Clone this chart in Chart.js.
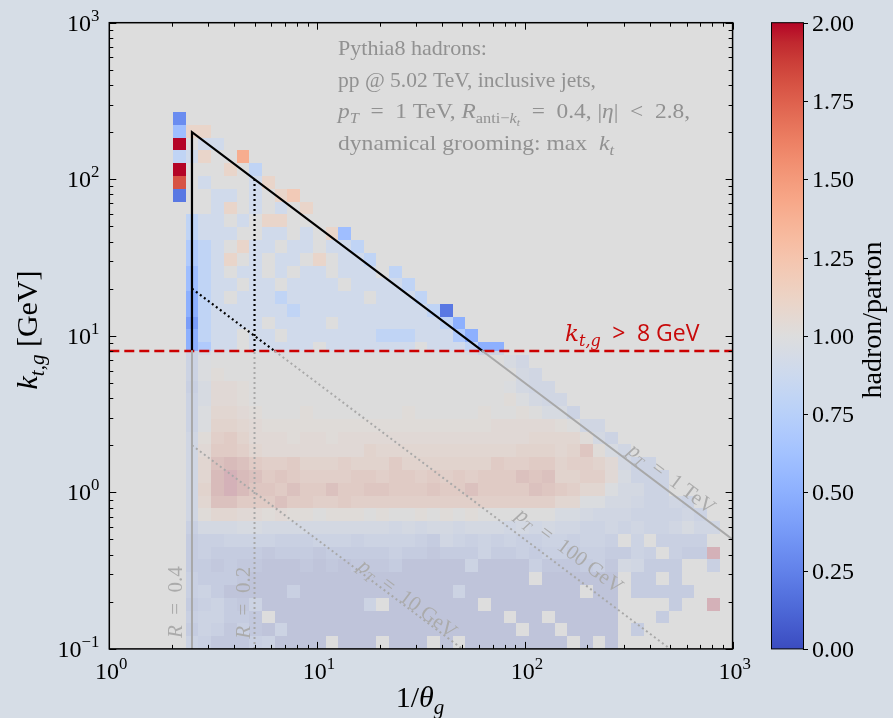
<!DOCTYPE html>
<html>
<head>
<meta charset="utf-8">
<script src="https://cdn.jsdelivr.net/npm/chart.js@4.4.1/dist/chart.umd.min.js"></script>
<style>
  html, body { margin: 0; padding: 0; background: #d6dde6; }
  #wrap { position: relative; width: 893px; height: 718px; }
</style>
</head>
<body>
<div id="wrap"><canvas id="chart" width="893" height="718"></canvas></div>
<script>
// binning of the 2D histogram (log bins)
const nBinsX = 49;        // 1/theta_g from 10^0 to 10^3
const nBinsY = 49;        // kt from 10^-1 to 10^3
const firstRow = 7;       // first filled row, counted from the top (kt = 1000)
const firstCol = 5;       // first filled column, counted from 1/theta_g = 1
const ktCut = 8;          // GeV, everything below is shown faded

// hadron/parton ratio, one character per cell:
// '0'..'9','A'..'K' -> 0.0 .. 2.0 in steps of 0.1, '.' -> empty bin
const LEVELS = '0123456789ABCDEFGHIJK';
const ratioRows = [
  '3',
  '6BB',
  'KA99',
  '89BAAE',
  'KAAABA8',
  'IA9AAA9B',
  '2AA99A9ABC',
  '..A9BA9A9AB',
  '.899A9ABBAAA',
  '.8999AA99A9AB6',
  '.789AB99A99A998',
  '.789BA9A99ABA998',
  '.689A99A9A99A999A8',
  '.6899A99A9999A99998',
  '.589A9998999999A9998',
  '.589999998999999999982',
  '.489999A9999A9999999985',
  '.5899A99A999999988899975',
  '.5799A99999A9999999A999855',
  '.59AAAAAAAAAAAAAAAAAAAAAAA86',
  '.59BAAAAAAAAAAAAAAAAAAAAAAA76',
  '.48CCBAAAAAAAAA' + 'AAAAAAAAAAA9766' + '..............',
  '.58CCBAAAAAAAAA' + 'AAAAAAAAAAAB976' + '6.............',
  '.59DDCBAAABAAAA' + 'AAABAAAAABAABA8' + '85............',
  '.59EEDCBBBBBBBB' + 'BBBBBBBBBBCCCCC' + 'BA66..........',
  '.6BFGECCCBCCBCC' + 'CCCCCCCCCCCCCDD' + 'DDB75.........',
  '.6CGGFDCCCCCCCC' + 'EDDDDDDDDDDDEEE' + 'DEHB86........',
  '.6DIJIGFFGEEEFE' + 'EEGEEEEEEEGFFGG' + 'EFFEC755......',
  '.6DJKJIGHGFFFFG' + 'GFGGFGFGFGGGIHI' + 'EEFFC8555.....',
  '.6EJKJHHGIGGIGG' + 'HHGGGHGGIGGGGIH' + 'GFDD97755.....',
  '.6DIIGGGIGGFFGF' + 'FFFFFFFFFFFFFFF' + 'DD997765565...',
  '.6BDDCCBCBBABBB' + 'ABAABABABAAAAAA' + '887666555565..',
  '.47778877777777' + '776767767776767' + '6655656556866.',
  '.34455554445554' + '555543654545445' + '54554.5.4444..',
  '.34333323332333' + '334332333533434' + '43443354.433K.',
  '.33232211121212' + '223111115111142' + '2234276333..4.',
  '.43332111111111' + '1111111111111.1' + '11111.33.3....',
  '.45311111411111' + '111111151111111' + '11.11.33333...',
  '.34532511111111' + '5.1111111.11111' + '11111....3..K.',
  '.455332.1111111' + '11111111111.11.' + '11111...3.....',
  '.35424215111111' + '111111111111.11' + '.1111.3.......',
  '.54222451111.11' + '1.111.1.1111111' + '1.1.1.........'
];

// axes
const xMajor = [1, 10, 100, 1000];
const xTickLabels = ['10^0', '10^1', '10^2', '10^3'];
const yMajor = [0.1, 1, 10, 100, 1000];
const yTickLabels = ['10^-1', '10^0', '10^1', '10^2', '10^3'];
const cbTicks = [0, 0.25, 0.5, 0.75, 1, 1.25, 1.5, 1.75, 2];
const cbTickLabels = ['0.00', '0.25', '0.50', '0.75', '1.00', '1.25', '1.50', '1.75', '2.00'];

// reference lines (1/theta_g, kt)
const cutTriangle = [{x: 2.5, y: 8}, {x: 2.5, y: 200}, {x: 62.5, y: 8}];
const cutR02 = [{x: 5, y: 8}, {x: 5, y: 100}];
const cutPt100 = [{x: 2.5, y: 20}, {x: 6.25, y: 8}];
const r04Below = [{x: 2.5, y: 0.1}, {x: 2.5, y: 8}];
const r02Below = [{x: 5, y: 0.1}, {x: 5, y: 8}];
const pt1TeV = [{x: 62.5, y: 8}, {x: 1000, y: 0.5}];
const pt100GeV = [{x: 6.25, y: 8}, {x: 1000, y: 0.05}];
const pt10GeV = [{x: 2.5, y: 2}, {x: 50, y: 0.1}];
const ktCutLine = [{x: 1, y: ktCut}, {x: 1000, y: ktCut}];

const COOLWARM = [
  [59,76,192],[68,90,204],[77,104,215],[87,117,225],[98,130,234],[108,142,241],
  [119,154,247],[130,165,251],[141,176,254],[152,185,255],[163,194,255],[174,201,253],
  [184,208,249],[194,213,244],[204,217,238],[213,219,230],[221,221,221],[229,216,209],
  [236,211,197],[241,204,185],[245,196,173],[247,187,160],[247,177,148],[247,166,135],
  [244,154,123],[241,141,111],[236,127,99],[229,112,88],[222,96,77],[213,80,66],
  [203,62,56],[192,40,47],[180,4,38]
];
function coolwarm(t) {
  t = Math.min(1, Math.max(0, t));
  const f = t * (COOLWARM.length - 1);
  const i = Math.min(COOLWARM.length - 2, Math.floor(f));
  const u = f - i, a = COOLWARM[i], b = COOLWARM[i + 1];
  return 'rgb(' + [0, 1, 2].map(k => Math.round(a[k] + (b[k] - a[k]) * u)).join(',') + ')';
}

const SERIF = '"Liberation Serif", "DejaVu Serif", serif';
const DSERIF = '"DejaVu Serif", serif';
const SANS = '"Open Sans", "Noto Sans", sans-serif';

// tiny "mathtext": runs of [text, style, level]; level 1 = subscript, 2 = sub-sub, -1 = superscript
// style letters: i = italic, s = sans, d = DejaVu Serif
function layoutRuns(ctx, runs, size) {
  let w = 0;
  const parts = runs.map(([t, st, lv]) => {
    st = st || '';
    lv = lv || 0;
    const px = lv === 0 ? size : lv === 2 ? size * 0.5 : size * 0.7;
    const dy = lv === 1 ? size * 0.22 : lv === 2 ? size * 0.36 : lv === -1 ? -size * 0.42 : 0;
    const fam = st.indexOf('s') >= 0 ? SANS : st.indexOf('d') >= 0 ? DSERIF : SERIF;
    const font = (st.indexOf('i') >= 0 ? 'italic ' : '') + px + 'px ' + fam;
    ctx.font = font;
    const p = {t, font, dx: w, dy};
    w += ctx.measureText(t).width;
    return p;
  });
  return {parts, width: w};
}
// fitWidth: optional width in px the run is stretched to (Computer Modern is wider than Times)
function drawRuns(ctx, x, y, runs, size, align, fitWidth) {
  const L = layoutRuns(ctx, runs, size);
  const sx = fitWidth ? fitWidth / L.width : 1;
  const w = L.width * sx;
  const x0 = align === 'center' ? x - w / 2 : align === 'right' ? x - w : x;
  ctx.save();
  ctx.translate(x0, y);
  ctx.scale(sx, 1);
  ctx.textAlign = 'left';
  ctx.textBaseline = 'alphabetic';
  L.parts.forEach(p => { ctx.font = p.font; ctx.fillText(p.t, p.dx, p.dy); });
  ctx.restore();
}
function powerLabel(s) {
  const [b, e] = s.split('^');
  return [[b, 'r'], [e.replace('-', '\u2212'), 'r', -1]];
}

const heatmap = {
  id: 'heatmap',
  beforeDatasetsDraw(chart) {
    const {ctx, chartArea: a, scales: {x, y}} = chart;
    ctx.save();
    ctx.fillStyle = '#dddddd';
    ctx.fillRect(a.left, a.top, a.width, a.height);
    ctx.beginPath();
    ctx.rect(a.left, a.top, a.width, a.height);
    ctx.clip();
    const yCut = Math.round(y.getPixelForValue(ktCut));
    ratioRows.forEach((row, i) => {
      const r = firstRow + i;
      const py0 = Math.round(y.getPixelForValue(Math.pow(10, 3 - 4 * r / nBinsY)));
      const py1 = Math.round(y.getPixelForValue(Math.pow(10, 3 - 4 * (r + 1) / nBinsY)));
      for (let j = 0; j < row.length; j++) {
        const ch = row[j];
        if (ch === '.') continue;
        const c = firstCol + j;
        const px0 = Math.round(x.getPixelForValue(Math.pow(10, 3 * c / nBinsX)));
        const px1 = Math.round(x.getPixelForValue(Math.pow(10, 3 * (c + 1) / nBinsX)));
        ctx.fillStyle = coolwarm(LEVELS.indexOf(ch) * 0.1 / 2);
        if (py0 < yCut) {
          ctx.globalAlpha = 1;
          ctx.fillRect(px0, py0, px1 - px0, Math.min(py1, yCut) - py0);
        }
        if (py1 > yCut) {
          const t = Math.max(py0, yCut);
          ctx.globalAlpha = 0.2;
          ctx.fillRect(px0, t, px1 - px0, py1 - t);
        }
      }
    });
    ctx.restore();
  }
};

const overlay = {
  id: 'overlay',
  afterDatasetsDraw(chart) {
    const {ctx, chartArea: a, scales: {x, y, cb}} = chart;
    ctx.save();

    // rotated gray labels along the reference lines
    const slope = Math.atan2(y.getPixelForValue(0.1) - y.getPixelForValue(1), x.getPixelForValue(10) - x.getPixelForValue(1));
    const tilted = [
      {runs: [['p', 'i'], ['T', 'i', 1], ['\u2002=\u20021 TeV', 'r']], at: [512, 1.23], rot: slope},
      {runs: [['p', 'i'], ['T', 'i', 1], ['\u2002=\u2002100 GeV', 'r']], at: [165, 0.428], rot: slope},
      {runs: [['p', 'i'], ['T', 'i', 1], ['\u2002=\u200210 GeV', 'r']], at: [27.4, 0.211], rot: slope},
      {runs: [['R', 'i'], ['\u2002=\u20020.4', 'r']], at: [2.07, 0.199], rot: -Math.PI / 2},
      {runs: [['R', 'i'], ['\u2002=\u20020.2', 'r']], at: [4.41, 0.197], rot: -Math.PI / 2}
    ];
    ctx.fillStyle = '#ababab';
    tilted.forEach(l => {
      ctx.save();
      ctx.translate(x.getPixelForValue(l.at[0]), y.getPixelForValue(l.at[1]));
      ctx.rotate(l.rot);
      drawRuns(ctx, 0, 7, l.runs, 21, 'center');
      ctx.restore();
    });

    // info block
    ctx.fillStyle = '#919191';
    const info = [
      {runs: [['Pythia8 hadrons:', 'r']], w: 149},
      {runs: [['pp @ 5.02 TeV, inclusive jets,', 'r']], w: 258},
      {runs: [['p', 'i'], ['T', 'i', 1], ['\u2002=\u20021 TeV, ', 'r'], ['R', 'i'], ['anti\u2212', 'r', 1], ['k', 'i', 1], ['t', 'i', 2],
              ['\u2002=\u20020.4, |', 'r'], ['\u03b7', 'i'], ['|\u2002<\u20022.8,', 'r']], w: 352},
      {runs: [['dynamical grooming: max\u2002', 'r'], ['k', 'i'], ['t', 'i', 1]], w: 276}
    ];
    info.forEach((l, i) => drawRuns(ctx, 338, 55 + i * 31.6, l.runs, 21.5, 'left', l.w));

    // kt cut label
    ctx.fillStyle = '#c80a0a';
    drawRuns(ctx, 565, 341, [['k', 'di'], ['t,g', 'di', 1], ['\u2002>\u20028 GeV', 's']], 23);

    // frame and inward ticks on all sides
    ctx.strokeStyle = '#000';
    ctx.lineWidth = 1;
    ctx.beginPath();
    const tick = (px, py, dx, dy) => { ctx.moveTo(px, py); ctx.lineTo(px + dx, py + dy); };
    for (let d = 0; d <= 3; d++) {
      for (let k = 1; k <= 9; k++) {
        const v = k * Math.pow(10, d);
        if (v > 1000) break;
        const px = Math.round(x.getPixelForValue(v)) + 0.5, len = k === 1 ? 7 : 4;
        tick(px, a.bottom, 0, -len);
        tick(px, a.top, 0, len);
      }
    }
    for (let d = -1; d <= 3; d++) {
      for (let k = 1; k <= 9; k++) {
        const v = k * Math.pow(10, d);
        if (v > 1000) break;
        const py = Math.round(y.getPixelForValue(v)) + 0.5, len = k === 1 ? 7 : 4;
        tick(a.left, py, len, 0);
        tick(a.right, py, -len, 0);
      }
    }
    ctx.stroke();
    ctx.lineWidth = 1.5;
    ctx.strokeRect(a.left, a.top, a.width, a.height);

    // tick labels
    ctx.fillStyle = '#000';
    xMajor.forEach((v, i) => drawRuns(ctx, x.getPixelForValue(v) + 2, a.bottom + 30, powerLabel(xTickLabels[i]), 24, 'center'));
    yMajor.forEach((v, i) => drawRuns(ctx, a.left - 10, y.getPixelForValue(v) + 8, powerLabel(yTickLabels[i]), 24, 'right'));

    // axis titles
    drawRuns(ctx, 420, 707, [['1/', 'r'], ['\u03b8', 'i'], ['g', 'i', 1]], 30, 'center');
    ctx.save();
    ctx.translate(37, 330);
    ctx.rotate(-Math.PI / 2);
    drawRuns(ctx, 0, 0, [['k', 'i'], ['t,g', 'i', 1], [' [GeV]', 'r']], 30, 'center');
    ctx.restore();

    // colour bar
    const cx0 = 771, cx1 = 803;
    const top = cb.getPixelForValue(2), bot = cb.getPixelForValue(0);
    const grad = ctx.createLinearGradient(0, bot, 0, top);
    COOLWARM.forEach((c, i) => grad.addColorStop(i / (COOLWARM.length - 1), 'rgb(' + c.join(',') + ')'));
    ctx.fillStyle = grad;
    ctx.fillRect(cx0, top, cx1 - cx0, bot - top);
    ctx.strokeStyle = '#000';
    ctx.lineWidth = 1;
    ctx.strokeRect(cx0 + 0.5, top, cx1 - cx0, bot - top);
    ctx.beginPath();
    cbTicks.forEach(v => { const py = Math.round(cb.getPixelForValue(v)) + 0.5; tick(cx1, py, 5, 0); });
    ctx.stroke();
    ctx.fillStyle = '#000';
    cbTicks.forEach((v, i) => drawRuns(ctx, cx1 + 9, cb.getPixelForValue(v) + 8, [[cbTickLabels[i], 'r']], 24));
    ctx.save();
    ctx.translate(881, 320);
    ctx.rotate(-Math.PI / 2);
    drawRuns(ctx, 0, 0, [['hadron/parton', 'r']], 28, 'center');
    ctx.restore();

    ctx.restore();
  }
};

function lineSet(data, color, width, dash) {
  return {
    data, xAxisID: 'x', yAxisID: 'y', showLine: true, fill: false,
    borderColor: color, borderWidth: width, borderDash: dash,
    borderCapStyle: dash.length ? 'butt' : 'round', pointRadius: 0, tension: 0
  };
}

new Chart(document.getElementById('chart'), {
  type: 'scatter',
  data: {
    datasets: [
      lineSet(r04Below, '#a8a8a8', 2, []),
      lineSet(r02Below, '#a8a8a8', 2, [2, 3]),
      lineSet(pt100GeV, '#a8a8a8', 2, [2, 3]),
      lineSet(pt10GeV, '#a8a8a8', 2, [2, 3]),
      lineSet(pt1TeV, '#a8a8a8', 2, []),
      lineSet(cutR02, '#000000', 2.2, [2, 3]),
      lineSet(cutPt100, '#000000', 2.2, [2, 3]),
      lineSet(cutTriangle, '#000000', 2.2, []),
      lineSet(ktCutLine, '#cc0000', 2.5, [10, 5])
    ]
  },
  options: {
    responsive: false,
    animation: false,
    devicePixelRatio: 1,
    layout: {padding: {left: 109.3, right: 160.4, top: 22.7, bottom: 69.1}},
    plugins: {legend: {display: false}, tooltip: {enabled: false}},
    scales: {
      x: {type: 'logarithmic', min: 1, max: 1000, display: false},
      y: {type: 'logarithmic', min: 0.1, max: 1000, display: false},
      cb: {type: 'linear', axis: 'y', min: 0, max: 2, display: false}
    }
  },
  plugins: [heatmap, overlay]
});
</script>
</body>
</html>
